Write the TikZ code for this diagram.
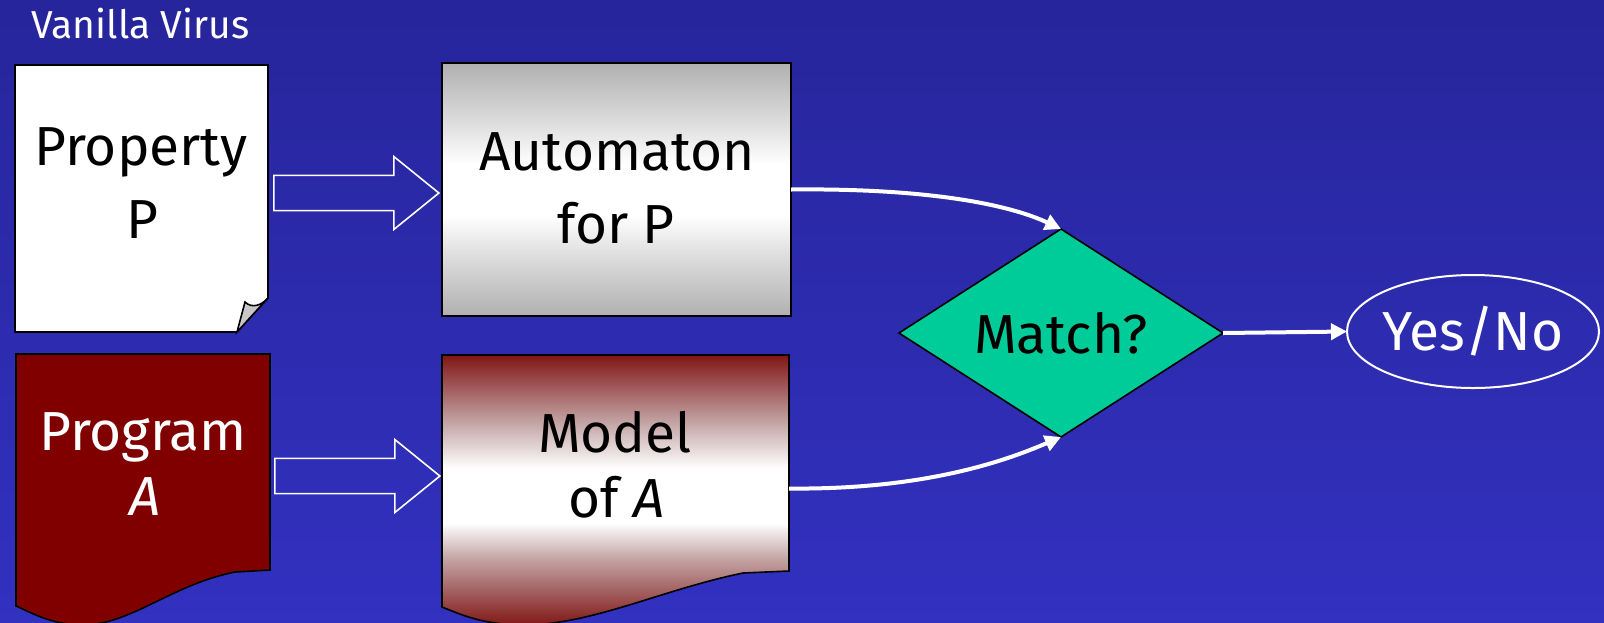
\documentclass[tikz,border=0pt]{standalone}
\usepackage{fontspec}
\setmainfont{Fira Sans}
\usetikzlibrary{shapes.geometric,shapes.arrows,arrows.meta}
\definecolor{bgtop}{RGB}{39,37,155}
\definecolor{bgbot}{RGB}{50,49,192}
\definecolor{boxgray}{RGB}{176,176,176}
\definecolor{graymid}{RGB}{222,222,222}
\definecolor{modelred}{RGB}{128,22,22}
\definecolor{modelmid}{RGB}{196,165,165}
\definecolor{progred}{RGB}{128,0,0}
\definecolor{matchgreen}{RGB}{0,204,153}
\definecolor{foldgray}{RGB}{200,200,200}
% vertical fades: the path's box covers 25bp..75bp
\pgfdeclareverticalshading{grayfade}{100bp}{color(0bp)=(boxgray); color(25bp)=(boxgray);
  color(37bp)=(graymid); color(45bp)=(white); color(55bp)=(white);
  color(63bp)=(graymid); color(75bp)=(boxgray); color(100bp)=(boxgray)}
\pgfdeclareverticalshading{redfade}{100bp}{color(0bp)=(modelred); color(25bp)=(modelred);
  color(37.5bp)=(modelmid); color(44bp)=(white); color(54bp)=(white);
  color(62.5bp)=(modelmid); color(75bp)=(modelred); color(100bp)=(modelred)}
\begin{document}
\begin{tikzpicture}[x=0.5pt,y=-0.5pt,
  lbl/.style={font=\fontsize{27.5}{33}\selectfont, inner sep=0pt, anchor=base},
  outline/.style={draw=black, line width=0.8pt},
  hub/.style={inner sep=0pt, outer sep=0pt},
  blockarrow/.style={single arrow, draw=white, line width=0.8pt, fill=none,
    inner xsep=0pt, inner ysep=8.4pt, text height=0pt, text depth=0pt, text width=0pt,
    single arrow head extend=9.4pt, single arrow tip angle=78,
    minimum height=82.5pt},
  conn/.style={white, line width=2pt, -{Triangle[length=8pt,width=8pt]}}]

% background
\useasboundingbox (0,0) rectangle (1604,622);
\shade[top color=bgtop, bottom color=bgbot] (0,0) rectangle (1604,622);

% title
\node[inner sep=0pt, anchor=base west, text=white, font=\fontsize{19.5}{24}\selectfont] (title) at (31,38) {Vanilla Virus};

% property sheet with folded corner
\draw[outline, fill=white] (15,65) -- (268,65) -- (268,298) -- (237,332) -- (15,332) -- cycle;
\draw[outline, fill=foldgray] (237,332) -- (245,302) .. controls (252,309) and (262,305) .. (268,298) -- cycle;
\node[hub, minimum width=126.5pt, minimum height=133.5pt] (propbox) at (141.5,198.5) {};
\node[lbl] (proptxt1) at (141,165) {Property};
\node[lbl] (proptxt2) at (142,238) {P};

% automaton box
\node[outline, hub, minimum width=174.5pt, minimum height=126.5pt,
  shading=grayfade] (autobox) at (616.5,189.5) {};
\node[lbl] (autotxt1) at (617,170) {Automaton};
\node[lbl] (autotxt2) at (616,243) {for P};

% program document
\draw[outline, fill=progred] (16,354) -- (270,354) -- (270,570) -- (235,572)
  .. controls (170,585) and (130,626) .. (80,625)
  .. controls (50,624) and (30,612) .. (16,606) -- cycle;
\node[hub, minimum width=127pt, minimum height=134pt] (progbox) at (143,488) {};
\node[lbl, text=white] (progtxt1) at (143,450) {Program};
\node[lbl, text=white] (progtxt2) at (145,515) {\itshape A};

% model document
\shade[shading=redfade] (442,355) -- (789,355) -- (789,571) -- (743,573)
  .. controls (660,590) and (590,626) .. (520,625)
  .. controls (480,624) and (460,614) .. (442,607) -- cycle;
\draw[outline] (442,355) -- (789,355) -- (789,571) -- (743,573)
  .. controls (660,590) and (590,626) .. (520,625)
  .. controls (480,624) and (460,614) .. (442,607) -- cycle;
\node[hub, minimum width=173.5pt, minimum height=133.5pt] (modelbox) at (615.5,488.5) {};
\node[lbl] (modeltxt1) at (615,452) {Model};
\node[lbl] (modeltxt2) at (617,517) {of \itshape A};

% block arrows
\node[blockarrow] (arrowtop) at (345.5,193) {};
\node[blockarrow] (arrowbot) at (346.5,476) {};

% decision
\node[diamond, outline, fill=matchgreen, hub, aspect=1.56,
  minimum width=162pt, minimum height=104pt] (match) at (1061,333) {};
\node[lbl] (matchtxt) at (1061,353) {Match?};

% result
\node[ellipse, draw=white, line width=1pt, hub,
  minimum width=126pt, minimum height=56.5pt] (yesno) at (1473,331.5) {};
\node[lbl, text=white] (yesnotxt) at (1473,350) {Yes/No};

% connectors
\draw[conn] (autobox.east) .. controls (930,188) and (1010,205) .. (match.north);
\draw[conn] (modelbox.east) .. controls (930,490) and (1012,458) .. (match.south);
\draw[conn] (match.east) -- (yesno.west);
\end{tikzpicture}
\end{document}
